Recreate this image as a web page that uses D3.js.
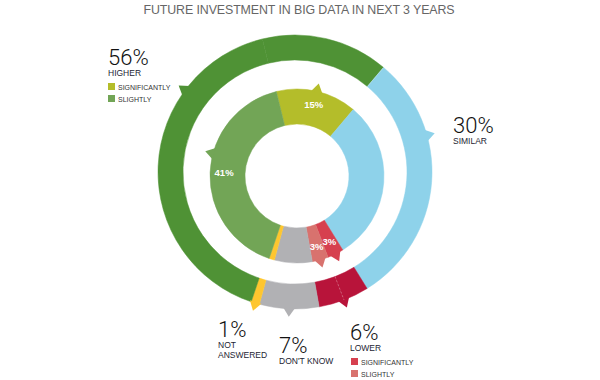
<!DOCTYPE html>
<html>
  <head>
    <script src="https://d3js.org/d3.v7.min.js"></script>
    <style>
      body {margin: 0; background: #fff;}
      .big {font-family: Roboto, "Liberation Sans", sans-serif; font-weight: 300; font-size: 22px; fill: #111;}
      .cap {font-family: "Liberation Sans", Arial, sans-serif; font-size: 8.5px; fill: #1d2433;}
      .leg {font-family: "Liberation Sans", Arial, sans-serif; font-size: 7px; fill: #333;}
      .pct {font-family: "Liberation Sans", Arial, sans-serif; font-size: 9.5px; font-weight: bold; fill: #fff;}
    </style>
  </head>
  <body>
    <svg width="600" height="380"></svg>
  </body>
  <script>
    // shares in %, same order in both rings (clockwise)
    var categories = ["Significantly higher", "Similar", "Significantly lower", "Slightly lower", "Don't know", "Not answered", "Slightly higher"];
    var values = [15, 30, 3, 3, 7, 1, 41];
    var outerColors = ["#4f9235", "#8ed2ea", "#b8143a", "#b8143a", "#b1b1b4", "#fec62f", "#4f9235"];
    var innerColors = ["#b4bd2a", "#8ed2ea", "#d6404f", "#d8726e", "#b1b1b4", "#fec62f", "#72a556"];
    var innerLabels = ["15%", "", "3%", "3%", "", "", "41%"];

    // pointers, in % along the ring
    var outerArrows = [24.5, 48, 54.5, 58.5, 89];
    var innerArrows = [7.5, 46.5, 49.5, 83];
    // split lines inside one outer group
    var outerSplits = [15, 48];

    var start = -13.75 * Math.PI / 180;

    var svg = d3.select("svg");

    svg.append("text")
      .attr("x", 299).attr("y", 14)
      .attr("text-anchor", "middle")
      .style("font-family", "'Liberation Sans', Arial, sans-serif")
      .style("font-size", "12.4px")
      .style("letter-spacing", "-0.1px")
      .style("fill", "#666")
      .text("FUTURE INVESTMENT IN BIG DATA IN NEXT 3 YEARS");

    var pie = d3.pie().sort(null).startAngle(start).endAngle(start + 2 * Math.PI);
    var arcs = pie(values);

    var pos = d3.scaleLinear().domain([0, 100]).range([start, start + 2 * Math.PI]);

    function ring(cx, cy, r0, r1, colors, arrows) {
      var g = svg.append("g").attr("transform", "translate(" + cx + "," + cy + ")");
      var arc = d3.arc().innerRadius(r0).outerRadius(r1);
      g.selectAll("path.seg")
        .data(arcs)
        .enter().append("path")
        .attr("class", "seg")
        .attr("d", arc)
        .attr("fill", function(d, i) { return colors[i]; })
        .attr("stroke", function(d, i) { return colors[i]; })
        .attr("stroke-width", 0.5);

      // small pointer triangles on the outer edge
      g.selectAll("path.arrow")
        .data(arrows)
        .enter().append("path")
        .attr("class", "arrow")
        .attr("d", function(p) {
          var a = pos(p), w = 6 / r1;
          var pt = function(ang, r) { return [r * Math.sin(ang), -r * Math.cos(ang)]; };
          return "M" + pt(a - w, r1 - 1) + "L" + pt(a, r1 + 8) + "L" + pt(a + w, r1 - 1) + "Z";
        })
        .attr("fill", function(p) {
          var a = pos(p);
          var i = arcs.findIndex(function(d) { return a >= d.startAngle && a < d.endAngle; });
          return colors[i];
        });
      return g;
    }

    var outer = ring(295, 172, 112, 137, outerColors, outerArrows);
    var inner = ring(297, 176, 52, 87, innerColors, innerArrows);

    outer.selectAll("line.split")
      .data(outerSplits)
      .enter().append("line")
      .attr("x1", function(p) { return 112 * Math.sin(pos(p)); })
      .attr("y1", function(p) { return -112 * Math.cos(pos(p)); })
      .attr("x2", function(p) { return 137 * Math.sin(pos(p)); })
      .attr("y2", function(p) { return -137 * Math.cos(pos(p)); })
      .attr("stroke", "#fff")
      .attr("stroke-opacity", 0.35)
      .attr("stroke-width", 0.8)
      .attr("stroke-dasharray", function(p, i) { return i ? "2,2" : null; });

    var labelArc = d3.arc().innerRadius(73).outerRadius(73);
    inner.selectAll("text.pct")
      .data(arcs)
      .enter().append("text")
      .attr("class", "pct")
      .attr("text-anchor", "middle")
      .attr("dy", "0.35em")
      .attr("transform", function(d) { return "translate(" + labelArc.centroid(d) + ")"; })
      .text(function(d, i) { return innerLabels[i]; });

    // group labels
    function group(x, y, big, lines) {
      svg.append("text").attr("class", "big").attr("x", x).attr("y", y).text(big);
      lines.forEach(function(t, i) {
        svg.append("text").attr("class", "cap").attr("x", x).attr("y", y + 10.5 + i * 10).text(t);
      });
    }
    function legend(x, y, items) {
      items.forEach(function(it, i) {
        svg.append("rect").attr("x", x).attr("y", y + i * 12).attr("width", 7).attr("height", 7).attr("fill", it[1]);
        svg.append("text").attr("class", "leg").attr("x", x + 10).attr("y", y + i * 12 + 7).text(it[0]);
      });
    }

    group(108, 65, "56%", ["HIGHER"]);
    legend(108, 83, [["SIGNIFICANTLY", innerColors[0]], ["SLIGHTLY", innerColors[6]]]);
    group(453, 133, "30%", ["SIMILAR"]);
    group(218, 337, "1%", ["NOT", "ANSWERED"]);
    group(279, 353, "7%", ["DON'T KNOW"]);
    group(350, 340, "6%", ["LOWER"]);
    legend(351, 358, [["SIGNIFICANTLY", innerColors[2]], ["SLIGHTLY", innerColors[3]]]);
  </script>
</html>
